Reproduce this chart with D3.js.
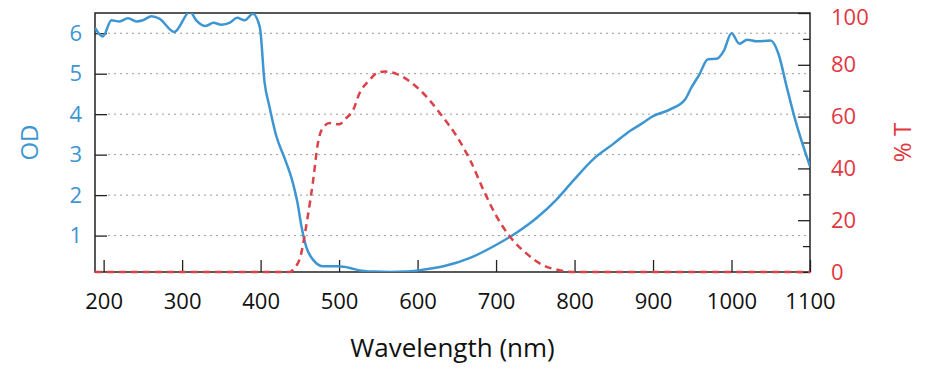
<!DOCTYPE html>
<html>
<head>
<meta charset="utf-8">
<script src="https://cdn.jsdelivr.net/npm/d3@7"></script>
<style>
  body { margin: 0; background: #fff; }
  text { font-family: "Open Sans", "Noto Sans", sans-serif; }
</style>
</head>
<body>
<div id="viz"></div>
<script>
const width = 936;
const height = 370;
const margins = { left: 95, top: 13, right: 126, bottom: 98 };
const visWidth = width - margins.left - margins.right;
const visHeight = height - margins.top - margins.bottom;

const blue = "#3d96d2";
const red = "#e2373f";

// OD curve (left axis)
const odWavelength = [189, 199, 210, 220, 231, 242, 250, 261, 271, 290, 310, 318, 330, 340, 350, 361, 370, 380, 390, 399,
    405, 411, 420, 431, 441, 447, 452, 458, 467, 480, 499, 514, 526, 545, 565, 585, 601, 633, 667, 701,
    726, 752, 777, 798, 824, 849, 871, 885, 900, 922, 941, 949, 959, 970, 981, 990, 1000, 1010, 1020, 1032,
    1050, 1060, 1070, 1081, 1100];
const odValues = [6.13, 5.92, 6.32, 6.29, 6.37, 6.29, 6.32, 6.42, 6.36, 6.03, 6.53, 6.32, 6.18, 6.26, 6.21, 6.26, 6.38, 6.32, 6.48, 6.15,
    4.79, 4.21, 3.46, 2.89, 2.31, 1.81, 1.23, 0.73, 0.40, 0.24, 0.24, 0.20, 0.14, 0.11, 0.10, 0.11, 0.14, 0.24, 0.45, 0.78,
    1.07, 1.44, 1.89, 2.35, 2.89, 3.26, 3.59, 3.76, 3.95, 4.12, 4.37, 4.66, 4.98, 5.36, 5.37, 5.56, 6.00, 5.74, 5.84, 5.80,
    5.82, 5.48, 4.70, 3.87, 2.71];

// Transmission curve (right axis)
const tWavelength = [189, 437, 443, 450, 460, 467, 473, 478, 488, 500, 509, 518, 526, 539, 548, 558, 573, 590, 611, 630,
    650, 667, 684, 701, 718, 739, 760, 781, 798, 1100];
const tValues = [0, 0, 1.5, 5.2, 21.3, 35.5, 49.7, 55, 57.5, 57, 59.4, 62.6, 69, 74.2, 76.8, 77.4, 76.5, 73.6, 67.8, 60.7,
    52.3, 43.2, 31.6, 21.3, 13.5, 7.1, 2.6, 0.7, 0, 0];

const xTicks = [200, 300, 400, 500, 600, 700, 800, 900, 1000, 1100];
const odTicks = [1, 2, 3, 4, 5, 6];
const tTicks = [0, 20, 40, 60, 80, 100];
const tMinorTicks = [10, 30, 50, 70, 90];

const svg = d3.select('#viz')
    .append("svg")
    .attr('width', width)
    .attr('height', height)
    .append("g")
    .attr("transform", `translate(${margins.left}, ${margins.top})`);

const xScale = d3.scaleLinear().domain([189, 1100]).range([0, visWidth]);
const yOD = d3.scaleLinear().domain([0.1, 6.5]).range([visHeight, 0]);
const yT = d3.scaleLinear().domain([0, 100]).range([visHeight, 0]);

svg.append("clipPath").attr("id", "clip")
    .append("rect").attr("width", visWidth).attr("height", visHeight);

// dotted gridlines
svg.append("g")
    .selectAll("line")
    .data(odTicks)
    .enter()
    .append("line")
    .attr("x1", 13)
    .attr("x2", visWidth)
    .attr("y1", d => yOD(d))
    .attr("y2", d => yOD(d))
    .attr("stroke", "#9a9a9a")
    .attr("stroke-width", 1)
    .attr("stroke-dasharray", "2,4");

function styleAxis(g, color) {
    g.select(".domain").remove();
    g.selectAll(".tick line").attr("stroke", "#222").attr("stroke-width", 1.3);
    g.selectAll(".tick text").attr("fill", color).style("font-size", "22px");
}

svg.append("g")
    .attr("transform", `translate(0, ${visHeight})`)
    .call(d3.axisBottom(xScale).tickValues(xTicks).tickFormat(d3.format("d")).tickSize(-12).tickPadding(21))
    .call(g => styleAxis(g, "#111"));

svg.append("g")
    .call(d3.axisLeft(yOD).tickValues(odTicks).tickFormat(d3.format("d")).tickSize(-12).tickPadding(13))
    .call(g => styleAxis(g, blue));

svg.append("g")
    .attr("transform", `translate(${visWidth}, 0)`)
    .call(d3.axisRight(yT).tickValues(tTicks).tickSize(-12).tickPadding(21))
    .call(g => styleAxis(g, red))
    .call(g => g.selectAll(".tick text").filter(d => d === 100).attr("dy", "0.5em"));

svg.append("g")
    .attr("transform", `translate(${visWidth}, 0)`)
    .call(d3.axisRight(yT).tickValues(tMinorTicks).tickSize(-7).tickFormat(""))
    .call(g => styleAxis(g, red));

// frame
svg.append("rect")
    .attr("width", visWidth)
    .attr("height", visHeight)
    .attr("fill", "none")
    .attr("stroke", "#222")
    .attr("stroke-width", 1.5);

const plot = svg.append("g").attr("clip-path", "url(#clip)");

const odLine = d3.line()
    .x((d, i) => xScale(odWavelength[i]))
    .y(d => yOD(d))
    .curve(d3.curveMonotoneX);

plot.append("path")
    .datum(odValues)
    .attr("fill", "none")
    .attr("stroke", blue)
    .attr("stroke-width", 2.5)
    .attr("stroke-linejoin", "round")
    .attr("d", odLine);

const tLine = d3.line()
    .x((d, i) => xScale(tWavelength[i]))
    .y(d => yT(d))
    .curve(d3.curveMonotoneX);

svg.append("path")
    .datum(tValues)
    .attr("fill", "none")
    .attr("stroke", "#dc4048")
    .attr("stroke-width", 2.5)
    .attr("stroke-dasharray", "7,5")
    .attr("d", tLine);

// axis titles
svg.append("text")
    .attr("x", visWidth / 2)
    .attr("y", visHeight + 85)
    .attr("text-anchor", "middle")
    .attr("fill", "#111")
    .style("font-size", "26px")
    .text("Wavelength (nm)");

svg.append("text")
    .attr("transform", `translate(${-57}, ${visHeight / 2}) rotate(-90)`)
    .attr("text-anchor", "middle")
    .attr("fill", blue)
    .style("font-size", "24px")
    .text("OD");

svg.append("text")
    .attr("transform", `translate(${visWidth + 101}, ${visHeight / 2}) rotate(-90)`)
    .attr("text-anchor", "middle")
    .attr("fill", red)
    .style("font-size", "24px")
    .text("% T");
</script>
</body>
</html>
